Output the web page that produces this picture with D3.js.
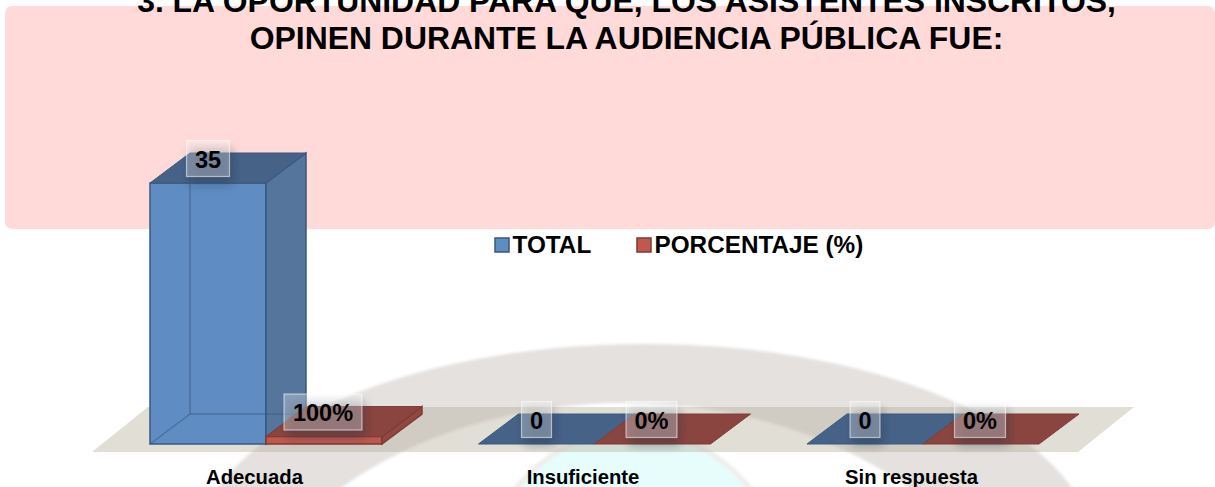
<!DOCTYPE html>
<html>
<head>
<meta charset="utf-8">
<script src="https://cdnjs.cloudflare.com/ajax/libs/d3/7.8.5/d3.min.js"></script>
<style>
  html, body { margin: 0; padding: 0; background: #fff; overflow: hidden; }
  text { font-family: "Liberation Sans", Arial, sans-serif; font-weight: bold; fill: #000; }
</style>
</head>
<body>
<script>
// chart data
const categories = ['Adecuada', 'Insuficiente', 'Sin respuesta'];
const seriesNames = ['TOTAL', 'PORCENTAJE (%)'];
const totalValues = [35, 0, 0];
const percentValues = [1, 0, 0]; // 100% is plotted as 1 on the same axis
const totalLabels = ['35', '0', '0'];
const percentLabels = ['100%', '0%', '0%'];
const titleLines = ['3. LA OPORTUNIDAD PARA QUE, LOS ASISTENTES INSCRITOS,', 'OPINEN DURANTE LA AUDIENCIA PÚBLICA FUE:'];

const width = 1215, height = 487;
const depthX = 40, depthY = -30;
const baseY = 444;

const svg = d3.select('body').append('svg')
  .attr('width', width)
  .attr('height', height)
  .style('display', 'block');

const defs = svg.append('defs');
defs.append('filter').attr('id', 'soft')
  .attr('x', '-50%').attr('y', '-50%').attr('width', '200%').attr('height', '200%')
  .append('feGaussianBlur').attr('stdDeviation', 4);
defs.append('filter').attr('id', 'wm')
  .append('feGaussianBlur').attr('stdDeviation', 1.5);
defs.append('filter').attr('id', 'tiny')
  .attr('x', '-5%').attr('y', '-5%').attr('width', '110%').attr('height', '110%')
  .append('feGaussianBlur').attr('stdDeviation', 0.5);

// watermark behind the chart
const wm = svg.append('g').attr('filter', 'url(#wm)');
wm.append('ellipse').attr('cx', 645).attr('cy', 554).attr('rx', 450).attr('ry', 210).attr('fill', '#e4e1df');
wm.append('ellipse').attr('cx', 625).attr('cy', 691).attr('rx', 400).attr('ry', 288).attr('fill', '#fff');
wm.append('ellipse').attr('cx', 633).attr('cy', 630).attr('rx', 166).attr('ry', 200)
  .attr('fill', '#e6fdfc').attr('stroke', '#eeeeec').attr('stroke-width', 5);

// pink header band
svg.append('rect')
  .attr('x', 5).attr('y', 6)
  .attr('width', 1210).attr('height', 223)
  .attr('rx', 7)
  .attr('fill', '#ffdad8');

// floor
svg.append('path')
  .attr('d', d3.line()([[92, 452], [1078, 452], [1134, 407], [148, 407]]) + 'Z')
  .attr('fill', '#b5ac98')
  .attr('fill-opacity', 0.4);

const x = d3.scaleBand()
  .domain(categories)
  .range([150, 1039])
  .paddingInner(0.2938)
  .paddingOuter(0);

const xSeries = d3.scaleBand()
  .domain(seriesNames)
  .range([0, x.bandwidth()]);

const y = d3.scaleLinear()
  .domain([0, 35])
  .range([baseY, 183]);

const palette = {
  TOTAL: { front: '#5f8cc2', side: '#54749d', top: '#466287', edge: '#38587f' },
  'PORCENTAJE (%)': { front: '#c0584f', side: '#8f4840', top: '#8a4541', edge: '#7f3a34' }
};

// one 3D box
function drawBar(g, x0, w, value, c) {
  const yTop = y(value);
  const poly = pts => d3.line()(pts) + 'Z';
  if (value > 0) {
    g.append('path')
      .attr('d', poly([[x0, yTop], [x0 + w, yTop], [x0 + w, baseY], [x0, baseY]]))
      .attr('fill', c.front)
      .attr('stroke', c.edge).attr('stroke-width', 1.5);
    g.append('path')
      .attr('d', poly([[x0 + w, yTop], [x0 + w + depthX, yTop + depthY], [x0 + w + depthX, baseY + depthY], [x0 + w, baseY]]))
      .attr('fill', c.side)
      .attr('stroke', c.edge).attr('stroke-width', 1.5);
  }
  g.append('path')
    .attr('d', poly([[x0, yTop], [x0 + depthX, yTop + depthY], [x0 + w + depthX, yTop + depthY], [x0 + w, yTop]]))
    .attr('fill', c.top)
    .attr('stroke', c.edge).attr('stroke-width', 1);
  // back edges show through the tall bar
  if (value > 10) {
    g.append('path')
      .attr('d', d3.line()([[x0 + depthX, yTop + depthY], [x0 + depthX, baseY + depthY], [x0, baseY]]))
      .attr('fill', 'none')
      .attr('stroke', c.edge).attr('stroke-opacity', 0.5).attr('stroke-width', 1.5);
    g.append('path')
      .attr('d', d3.line()([[x0 + depthX, baseY + depthY], [x0 + w + depthX, baseY + depthY]]))
      .attr('fill', 'none')
      .attr('stroke', c.edge).attr('stroke-opacity', 0.5).attr('stroke-width', 1.5);
  }
}

const bars = svg.append('g').attr('filter', 'url(#tiny)');
categories.forEach((cat, i) => {
  const x0 = x(cat);
  drawBar(bars, x0 + xSeries(seriesNames[0]), xSeries.bandwidth(), totalValues[i], palette.TOTAL);
  drawBar(bars, x0 + xSeries(seriesNames[1]), xSeries.bandwidth(), percentValues[i], palette['PORCENTAJE (%)']);
});

// data labels: translucent box with a soft shadow underneath
const labelsG = svg.append('g');
function drawLabel(cx, cyy, text, w) {
  const h = 36;
  labelsG.append('rect')
    .attr('x', cx - w / 2 + 3).attr('y', cyy - h / 2 + 8)
    .attr('width', w).attr('height', h)
    .attr('fill', '#1c2c40').attr('fill-opacity', 0.32)
    .attr('filter', 'url(#soft)');
  labelsG.append('rect')
    .attr('x', cx - w / 2).attr('y', cyy - h / 2)
    .attr('width', w).attr('height', h)
    .attr('fill', '#fff').attr('fill-opacity', 0.3)
    .attr('stroke', '#fff').attr('stroke-opacity', 0.55).attr('stroke-width', 1.2);
  labelsG.append('text')
    .attr('x', cx).attr('y', cyy + 9)
    .attr('text-anchor', 'middle')
    .style('font-size', '23.5px')
    .text(text);
}

categories.forEach((cat, i) => {
  const w = xSeries.bandwidth();
  const tx = x(cat) + xSeries(seriesNames[0]) + w / 2;
  const px = x(cat) + xSeries(seriesNames[1]) + w / 2;
  drawLabel(tx, y(totalValues[i]) + depthY / 2 - 9.5, totalLabels[i], totalValues[i] ? 43 : 30);
  drawLabel(px - 1, y(percentValues[i]) + depthY / 2 - 9.5, percentLabels[i], percentValues[i] ? 78 : 51);
});

// category axis labels
svg.append('g').selectAll('text')
  .data(categories)
  .join('text')
  .attr('x', d => x(d) + x.bandwidth() / 2 - 11.5)
  .attr('y', 484)
  .attr('text-anchor', 'middle')
  .style('font-size', '20.3px')
  .text(d => d);

// legend
const legendX = [495, 637];
const legend = svg.append('g').selectAll('g')
  .data(seriesNames)
  .join('g')
  .attr('transform', (d, i) => `translate(${legendX[i]},0)`);
legend.append('rect')
  .attr('x', 0).attr('y', 238)
  .attr('width', 14).attr('height', 14)
  .attr('fill', d => palette[d].front)
  .attr('stroke', d => palette[d].edge)
  .attr('stroke-width', 1.5);
legend.append('text')
  .attr('x', 17.5).attr('y', 252.5)
  .style('font-size', '24.3px')
  .text(d => d);

// title, cut off by the top of the page
svg.append('g').selectAll('text')
  .data(titleLines)
  .join('text')
  .attr('x', 626.5)
  .attr('y', (d, i) => 12 + i * 37)
  .attr('text-anchor', 'middle')
  .style('font-size', '31.9px')
  .text(d => d);
</script>
</body>
</html>
